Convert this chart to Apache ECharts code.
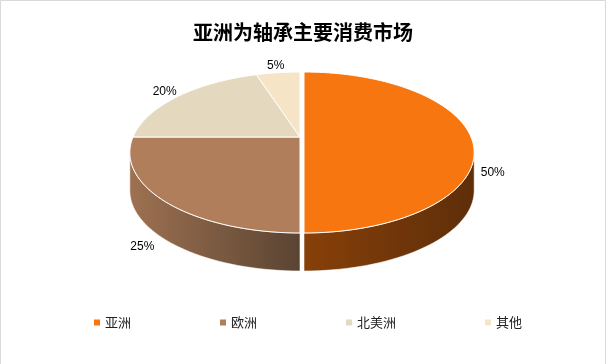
<!DOCTYPE html>
<html><head><meta charset="utf-8">
<script src="https://cdn.jsdelivr.net/npm/echarts/dist/echarts.min.js"></script>
<style>html,body{margin:0;padding:0;background:#fff}#c{width:606px;height:364px}</style>
</head><body><div id="c"></div>
<script>
const titleText = '亚洲为轴承主要消费市场';
const categories = ['亚洲', '欧洲', '北美洲', '其他'];
const values = [50, 25, 20, 5];
const labels = ['50%', '25%', '20%', '5%'];

const topColors = ['#F7760F', '#B07E5B', '#E4D9BF', '#F6E4C7'];
const sideColors = [['#874009', '#5E2E09'], ['#9E7151', '#5A4432'], ['#C9BDA3', '#9E947F'], ['#D8C8AD', '#A89B86']];
const explode = [4, 0, 0, 0];

const total = values.reduce((a, b) => a + b, 0);
const starts = [];
let acc = 0;
values.forEach(v => { starts.push(acc / total * 360); acc += v; });

const CX = 300, CY = 137, A = 167, C = 51.14, E = 0.1925, DEPTH = 38;
const PHI1 = Math.acos(-E) * 180 / Math.PI, PHI2 = 360 - PHI1;
function proj(phi, r) {
  const t = phi * Math.PI / 180;
  const u = r * Math.sin(t), v = r * Math.cos(t);
  const d = 1 + E * v;
  return [CX + A * u / d, (CY - C * v) / d];
}

function makeRender(i) {
  return function (params, api) {
    const a0 = starts[i], a1 = starts[i] + values[i] / total * 360;
    const dx = explode[i];
    const children = [];
    const s0 = Math.max(a0, PHI1), s1 = Math.min(a1, PHI2);
    if (s1 > s0) {
      const M = Math.max(4, Math.ceil((s1 - s0) / 2));
      const pts = [];
      for (let k = 0; k <= M; k++) { const p = proj(s0 + (s1 - s0) * k / M, 1); pts.push([p[0] + dx, p[1]]); }
      for (let k = M; k >= 0; k--) { const p = proj(s0 + (s1 - s0) * k / M, 1); pts.push([p[0] + dx, p[1] + DEPTH]); }
      children.push({
        type: 'polygon', shape: { points: pts },
        style: {
          fill: new echarts.graphic.LinearGradient(0, 0, 1, 0, [
            { offset: 0, color: sideColors[i][0] }, { offset: 1, color: sideColors[i][1] }]),
          stroke: 'rgba(255,255,255,0.7)', lineWidth: 0.8
        }
      });
    }
    const N = Math.max(4, Math.ceil((a1 - a0) / 2));
    const top = [[CX + dx, CY]];
    for (let k = 0; k <= N; k++) { const p = proj(a0 + (a1 - a0) * k / N, 1); top.push([p[0] + dx, p[1]]); }
    children.push({ type: 'polygon', shape: { points: top }, style: { fill: topColors[i], stroke: '#fff', lineWidth: 1 } });
    const mid = (a0 + a1) / 2;
    const lp = proj(mid, 1.13);
    let ly = lp[1];
    if (Math.cos(mid * Math.PI / 180) <= 1e-6) ly += 36;
    children.push({
      type: 'text',
      style: { text: labels[i], x: lp[0] + dx, y: ly, align: 'center', verticalAlign: 'middle',
        fill: '#000', font: '12px "Liberation Sans", sans-serif' }
    });
    return { type: 'group', children: children };
  };
}

const chart = echarts.init(document.getElementById('c'), null, { renderer: 'canvas' });
chart.setOption({
  animation: false,
  backgroundColor: '#fff',
  title: {
    text: titleText, left: 'center', top: 17,
    textStyle: { fontSize: 20, fontWeight: 'bold', color: '#000', fontFamily: '"Noto Sans CJK SC", sans-serif' }
  },
  legend: {
    data: categories, left: 89, top: 311, icon: 'rect', itemWidth: 6, itemHeight: 6, itemGap: 89,
    textStyle: { fontSize: 13, color: '#222', fontFamily: '"Noto Sans CJK SC", sans-serif' }
  },
  graphic: [{ type: 'rect', shape: { x: 0.5, y: 0.5, width: 605, height: 420 }, style: { fill: 'none', stroke: '#d9d9d9', lineWidth: 1 }, silent: true }],
  series: categories.map((name, i) => ({
    type: 'custom', name: name, coordinateSystem: 'none',
    itemStyle: { color: topColors[i] },
    data: [values[i]],
    renderItem: makeRender(i)
  }))
});
</script></body></html>
